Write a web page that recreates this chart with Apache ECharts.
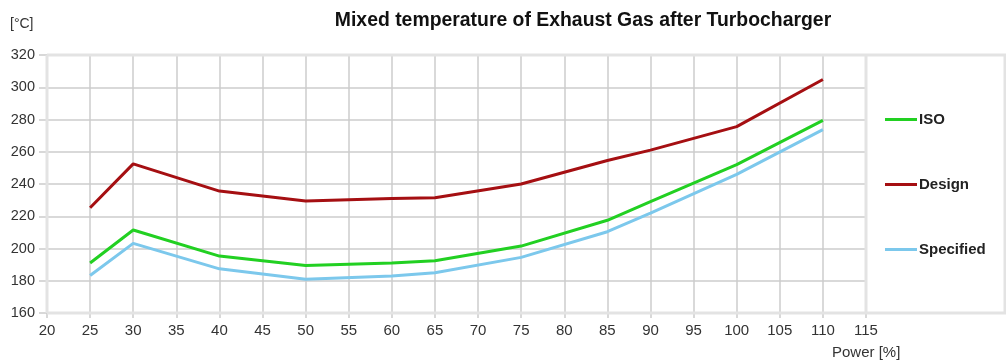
<!DOCTYPE html>
<html><head><meta charset="utf-8">
<script src="https://cdn.jsdelivr.net/npm/echarts@6/dist/echarts.min.js"></script>
<style>html,body{margin:0;padding:0;background:#fff}#c{width:1006px;height:361px}</style>
</head><body><div id="c"></div>
<script>
const powers = [25, 30, 40, 50, 60, 65, 75, 85, 90, 100, 110];
const iso = [191, 211.5, 195.3, 189.5, 191, 192.4, 201.5, 217.5, 229, 252, 279.5];
const design = [225.3, 252.5, 235.6, 229.5, 231, 231.5, 240, 254.6, 261, 275.6, 304.8];
const specified = [183.3, 203.2, 187.4, 181, 183, 185, 194.5, 210.4, 221.9, 246, 273.7];
const seriesNames = ['ISO', 'Design', 'Specified'];
const xMin = 20, xMax = 115, xStep = 5;
const yMin = 160, yMax = 320, yStep = 20;

const chart = echarts.init(document.getElementById('c'));
const font = '"Liberation Sans", Arial, sans-serif';
const pair = (vals) => powers.map((p, i) => [p, vals[i]]);
const colors = ['#22d022', '#a50f12', '#7cc8ec'];
chart.setOption({
  animation: false,
  textStyle: {fontFamily: font},
  title: [
    {text: 'Mixed temperature of Exhaust Gas after Turbocharger', left: 578, top: 6, textAlign: 'center',
     textStyle: {fontSize: 19.4, fontWeight: 'bold', color: '#111', fontFamily: font}},
    {text: '[°C]', left: 5, top: 12, textStyle: {fontSize: 14, fontWeight: 'normal', color: '#333', fontFamily: font}},
    {text: 'Power [%]', left: 827, top: 340, textStyle: {fontSize: 15, fontWeight: 'normal', color: '#333', fontFamily: font}}
  ],
  grid: {left: 47, right: 140, top: 55, bottom: 48},
  legend: {
    orient: 'vertical', left: 880, top: 107, itemWidth: 32, itemHeight: 3, itemGap: 50, icon: 'rect',
    data: seriesNames,
    textStyle: {fontSize: 15, fontWeight: 'bold', color: '#222', fontFamily: font, lineHeight: 15, padding: [0,0,0,-3]}
  },
  xAxis: {
    type: 'value', min: xMin, max: xMax, interval: xStep,
    axisLine: {show: false},
    axisTick: {show: true, length: 5, lineStyle: {color: '#cccccc', width: 1.5}},
    axisLabel: {fontSize: 15, color: '#333', margin: 10, fontFamily: font},
    splitLine: {show: true, lineStyle: {color: '#cccccc', width: 1.5}}
  },
  yAxis: {
    type: 'value', min: yMin, max: yMax, interval: yStep,
    axisLine: {show: false},
    axisTick: {show: true, length: 8, lineStyle: {color: '#cccccc', width: 1.5}},
    axisLabel: {fontSize: 14.5, color: '#333', margin: 12, fontFamily: font},
    splitLine: {show: true, lineStyle: {color: '#cccccc', width: 1.5}}
  },
  series: [
    {name: seriesNames[0], type: 'line', data: pair(iso), symbol: 'none', color: colors[0], lineStyle: {width: 3, color: colors[0]}, z: 4},
    {name: seriesNames[1], type: 'line', data: pair(design), symbol: 'none', color: colors[1], lineStyle: {width: 3, color: colors[1]}, z: 3},
    {name: seriesNames[2], type: 'line', data: pair(specified), symbol: 'none', color: colors[2], lineStyle: {width: 3, color: colors[2]}, z: 2}
  ]
});
// frame decoration derived from the axes
const tl = chart.convertToPixel({gridIndex: 0}, [xMin, yMax]);
const br = chart.convertToPixel({gridIndex: 0}, [xMax, yMin]);
const W = chart.getWidth();
const fs = {stroke: '#e3e3e3', lineWidth: 3};
chart.setOption({
  graphic: [
    {type: 'line', z: 10, shape: {x1: tl[0], y1: tl[1], x2: W, y2: tl[1]}, style: fs},
    {type: 'line', z: 10, shape: {x1: tl[0], y1: br[1], x2: W, y2: br[1]}, style: fs},
    {type: 'line', z: 10, shape: {x1: tl[0], y1: tl[1], x2: tl[0], y2: br[1]}, style: fs},
    {type: 'line', z: 10, shape: {x1: br[0], y1: tl[1], x2: br[0], y2: br[1]}, style: fs},
    {type: 'line', z: 10, shape: {x1: W - 1, y1: tl[1], x2: W - 1, y2: br[1]}, style: fs}
  ]
});
</script></body></html>
